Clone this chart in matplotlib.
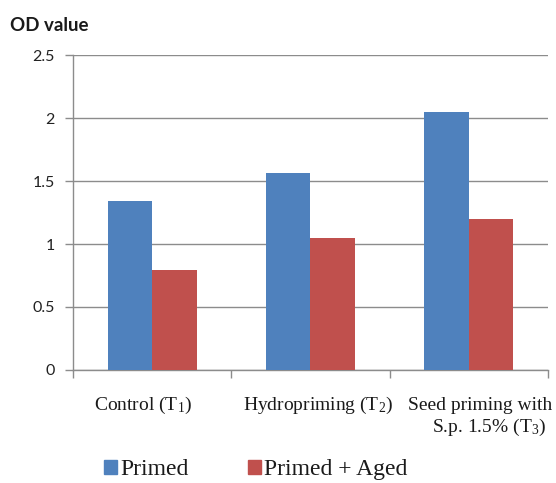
import numpy as np
import matplotlib.pyplot as plt
from matplotlib.patches import Patch

plt.rcParams['mathtext.fontset'] = 'custom'
plt.rcParams['mathtext.rm'] = 'Liberation Serif'
plt.rcParams['mathtext.it'] = 'Liberation Serif'

# OD values per treatment
categories = ['Control (T$_1$)', 'Hydropriming (T$_2$)', 'Seed priming with\nS.p. 1.5% (T$_3$)']
primed = [1.34, 1.56, 2.05]
primed_aged = [0.79, 1.05, 1.20]
series_names = ['Primed', 'Primed + Aged']

blue = '#4f81bd'
red = '#c0504d'
grid_col = '#8c8c8c'

# horizontal nudge (px) of each label line under its group
label_shift = [[-9], [8], [11, 20]]

fig = plt.figure(figsize=(5.56, 4.83), dpi=100)
ax = fig.add_axes([0.1313, 0.234, 0.8543, 0.652])

x = np.arange(len(categories))
w = 0.28
ax.bar(x - w / 2, primed, width=w, color=blue, zorder=3)
ax.bar(x + w / 2, primed_aged, width=w, color=red, zorder=3)

ax.set_xlim(-0.5, len(categories) - 0.5)
ax.set_ylim(0, 2.5)
ax.set_yticks(np.arange(0, 2.51, 0.5))
ax.set_yticklabels(['0', '0.5', '1', '1.5', '2', '2.5'], family='Lato', fontsize=11.5,
                   color='#222222')
ax.yaxis.grid(True, color=grid_col, linewidth=1)
ax.set_axisbelow(True)

# boundary ticks on x, labels drawn separately below each group
ax.set_xticks(np.arange(-0.5, len(categories), 1))
ax.set_xticklabels([])
ax.tick_params(axis='x', length=6, color=grid_col, width=1)
ax.tick_params(axis='y', length=6, color=grid_col, width=1, pad=7)

for i, label in enumerate(categories):
    for j, line in enumerate(label.split('\n')):
        ax.annotate(line, xy=(x[i], 0), xycoords=('data', 'axes fraction'),
                    xytext=(label_shift[i][j], -40 - 22 * j), textcoords='offset pixels',
                    ha='center', va='baseline', family='Liberation Serif', fontsize=14,
                    color='#1a1a1a')

for side in ['top', 'right']:
    ax.spines[side].set_visible(False)
for side in ['left', 'bottom']:
    ax.spines[side].set_color(grid_col)
    ax.spines[side].set_linewidth(1)

fig.text(0.018, 0.948, 'OD value', family='Lato', fontweight='bold', fontsize=13.5,
         va='center', ha='left', color='#1a1a1a')

handles = [Patch(color=blue), Patch(color=red)]
fig.legend(handles, series_names, loc='center', bbox_to_anchor=(0.46, 0.027),
           ncol=2, frameon=False, prop={'family': 'Liberation Serif', 'size': 17},
           handlelength=0.55, handleheight=0.55, handletextpad=0.15, columnspacing=2.5,
           borderpad=0.0, labelcolor='#1a1a1a')

fig.savefig('out.png', dpi=100)
